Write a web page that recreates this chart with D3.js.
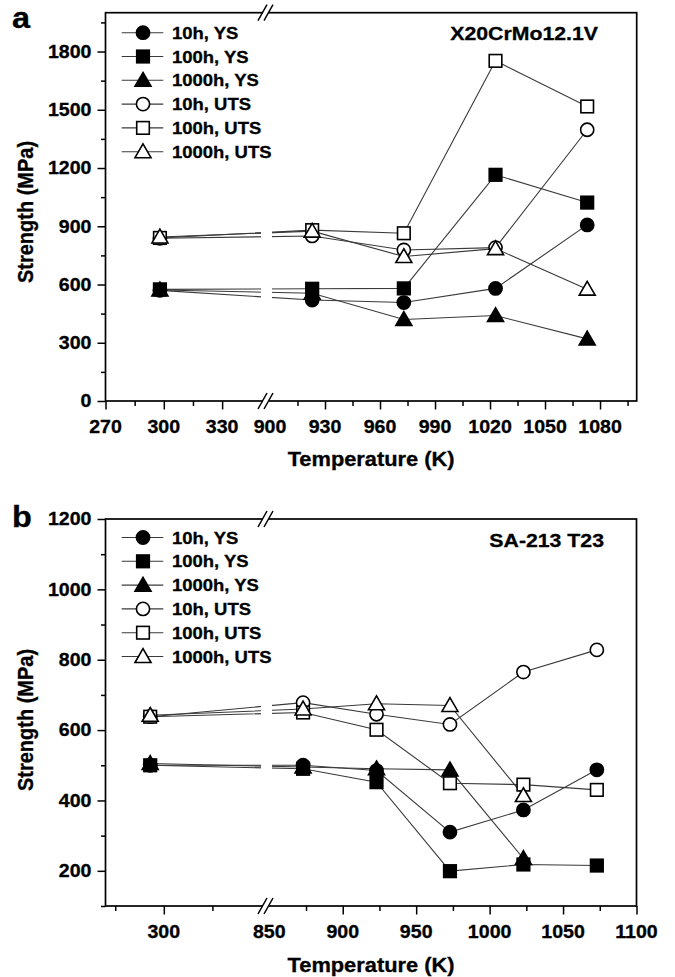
<!DOCTYPE html>
<html><head><meta charset="utf-8">
<script src="https://cdn.jsdelivr.net/npm/d3@7/dist/d3.min.js"></script>
<style>body{margin:0;background:#fff}svg{display:block}text{font-family:"Liberation Sans",Arial,Helvetica,sans-serif;font-weight:bold;fill:#000;stroke:#000;stroke-width:0.3px}</style>
</head><body><svg id="c" width="675" height="977"></svg>
<script>
// ---------- data ----------
const seriesNames = ["10h, YS","100h, YS","1000h, YS","10h, UTS","100h, UTS","1000h, UTS"];
const seriesShapes = ["circle","square","triangle","circle","square","triangle"];
const seriesFilled = [true,true,true,false,false,false];

// Panel a: X20CrMo12.1V
const titleA = "X20CrMo12.1V";
const tempsA = [298, 923, 973, 1023, 1073];
const ys10A    = [570, 520, 507, 580, 907];
const ys100A   = [575, 578, 580, 1165, 1022];
const ys1000A  = [572, 555, 420, 440, 320];
const uts10A   = [838, 850, 778, 790, 1397];
const uts100A  = [840, 880, 864, 1752, 1517];
const uts1000A = [845, 875, 744, 785, 576];
const yTicksA = [0,300,600,900,1200,1500,1800];
const yMinorA = [150,450,750,1050,1350,1650,1950];
const xLeftTicksA = [270,300,330], xLeftMinorA = [285,315];
const xRightTicksA = [930,960,990,1020,1050,1080], xRightMinorA = [915,945,975,1005,1035,1065,1095];
const xLabelsLeftA = [270,300,330], xLabelsRightA = [900,930,960,990,1020,1050,1080];

// Panel b: SA-213 T23
const titleB = "SA-213 T23";
const tempsB = [293, 873, 923, 973, 1023, 1073];
const ys10B    = [500, 500, 485, 310, 373, 487];
const ys100B   = [500, 490, 452, 199, 218, 215];
const ys1000B  = [505, 495, 490, 487, 235];
const uts10B   = [638, 678, 645, 616, 765, 828];
const uts100B  = [638, 650, 601, 449, 445, 430];
const uts1000B = [642, 660, 675, 670, 414];
const yTicksB = [200,400,600,800,1000,1200];
const yMinorB = [100,300,500,700,900,1100];
const xLeftTicksB = [300], xLeftMinorB = [275,325];
const xRightTicksB = [900,950,1000,1050,1100], xRightMinorB = [875,925,975,1025,1075];
const xLabelsLeftB = [300], xLabelsRightB = [850,900,950,1000,1050,1100];

// ---------- drawing ----------
const svg = d3.select("#c");
const SX = 1.12; // horizontal stretch of the original lettering
const LINE = "#3a3a3a";

function sym(g, shape, filled, x, y){
  const fill = filled ? "#000" : "#fff";
  let el;
  if(shape==="circle") el = g.append("circle").attr("cx",x).attr("cy",y).attr("r",6.6);
  else if(shape==="square") el = g.append("rect").attr("x",x-6.3).attr("y",y-6.3).attr("width",12.6).attr("height",12.6);
  else el = g.append("path").attr("d",`M${x},${y-7.8}L${x+8},${y+6}L${x-8},${y+6}Z`);
  el.attr("fill",fill).attr("stroke","#000").attr("stroke-width",1.6).attr("stroke-linejoin","miter");
}
function label(g, x, y, s, size, anchor){
  return g.append("text").attr("transform",`translate(${x},${y}) scale(${SX},1)`)
    .attr("text-anchor",anchor||"start").attr("font-size",size).text(s);
}

function panel(cfg){
  const g = svg.append("g");
  const {L,R,T,B,brk} = cfg;
  const xL = d3.scaleLinear().domain(cfg.leftDom).range([L, cfg.leftEnd]);
  const xR = d3.scaleLinear().domain(cfg.rightDom).range([cfg.rightStart, R]);
  const xp = v => v < 600 ? xL(v) : xR(v);
  const y = d3.scaleLinear().domain(cfg.yDom).range([B, T]);

  // clip for lines (gap at break)
  const cid = "clip"+cfg.id;
  const cp = svg.append("defs").append("clipPath").attr("id",cid);
  cp.append("rect").attr("x",L).attr("y",T).attr("width",brk-5-L).attr("height",B-T);
  cp.append("rect").attr("x",brk+6).attr("y",T).attr("width",R-brk-6).attr("height",B-T);

  // y ticks
  const yAx = g.append("g").attr("transform",`translate(${L},0)`)
    .call(d3.axisLeft(y).tickValues(cfg.yTicks).tickSize(8).tickFormat(""));
  const yAxm = g.append("g").attr("transform",`translate(${L},0)`)
    .call(d3.axisLeft(y).tickValues(cfg.yMinor).tickSize(4.5).tickFormat(""));
  // x ticks
  const xa1 = g.append("g").attr("transform",`translate(0,${B})`).call(d3.axisBottom(xL).tickValues(cfg.xlT).tickSize(8.5).tickFormat(""));
  const xa2 = g.append("g").attr("transform",`translate(0,${B})`).call(d3.axisBottom(xL).tickValues(cfg.xlM).tickSize(5).tickFormat(""));
  const xa3 = g.append("g").attr("transform",`translate(0,${B})`).call(d3.axisBottom(xR).tickValues(cfg.xrT).tickSize(8.5).tickFormat(""));
  const xa4 = g.append("g").attr("transform",`translate(0,${B})`).call(d3.axisBottom(xR).tickValues(cfg.xrM).tickSize(5).tickFormat(""));
  [yAx,yAxm,xa1,xa2,xa3,xa4].forEach(a=>{a.select(".domain").remove();a.selectAll("line").attr("stroke","#000").attr("stroke-width",1.5);});

  // frame
  g.append("rect").attr("x",L).attr("y",T).attr("width",R-L).attr("height",B-T)
    .attr("fill","none").attr("stroke","#000").attr("stroke-width",1.7);

  // break marks
  [T,B].forEach(yy=>{
    g.append("rect").attr("x",brk-3).attr("y",yy-2).attr("width",6).attr("height",4).attr("fill","#fff");
    g.append("line").attr("x1",brk-8).attr("y1",yy+8).attr("x2",brk+1).attr("y2",yy-8).attr("stroke","#000").attr("stroke-width",1.5);
    g.append("line").attr("x1",brk-2).attr("y1",yy+8).attr("x2",brk+7).attr("y2",yy-8).attr("stroke","#000").attr("stroke-width",1.5);
  });

  // tick labels
  cfg.yTicks.forEach(v=>label(g, L-14, y(v)+6.3, String(v), 17.5, "end"));
  cfg.xlL.forEach(v=>label(g, xL(v), B+32, String(v), 17.5, "middle"));
  cfg.xrL.forEach(v=>label(g, xR(v), B+32, String(v), 17.5, "middle"));

  // axis titles
  label(g, (L+R)/2, cfg.xTitleY, "Temperature (K)", 19.5, "middle");
  g.append("text").attr("transform",`translate(33,${cfg.yTitleY}) rotate(-90) scale(1,${SX})`)
    .attr("text-anchor","middle").attr("font-size",20).text("Strength (MPa)");
  // panel letter & title
  label(g, 12, cfg.letterY, cfg.letter, 29, "start");
  label(g, cfg.titleX, cfg.titleY, cfg.title, 19, "end");

  // lines
  const lg = g.append("g").attr("clip-path",`url(#${cid})`);
  const line = d3.line().x(d=>xp(d[0])).y(d=>y(d[1]));
  cfg.series.forEach(vals=>{
    const pts = vals.map((v,i)=>[cfg.temps[i], v]);
    lg.append("path").attr("d",line(pts)).attr("fill","none").attr("stroke",LINE).attr("stroke-width",1.1);
  });
  // markers
  cfg.series.forEach((vals,k)=>{
    vals.forEach((v,i)=>sym(g, seriesShapes[k], seriesFilled[k], xp(cfg.temps[i]), y(v)));
  });

  // legend
  seriesNames.forEach((n,k)=>{
    const yy = cfg.legY + k*23.8;
    g.append("line").attr("x1",121.7).attr("x2",163.3).attr("y1",yy).attr("y2",yy).attr("stroke",LINE).attr("stroke-width",1.1);
    sym(g, seriesShapes[k], seriesFilled[k], 143, yy);
    label(g, 172, yy+6, n, 16.5, "start");
  });
}

panel({id:"a", L:105.5, R:636.7, T:12.7, B:401, brk:266,
  leftDom:[270,350], leftEnd:261, rightDom:[900,1100], rightStart:270,
  yDom:[0,2000], yTicks:yTicksA, yMinor:yMinorA,
  xlT:xLeftTicksA, xlM:xLeftMinorA, xrT:xRightTicksA, xrM:xRightMinorA,
  xlL:xLabelsLeftA, xrL:xLabelsRightA,
  xTitleY:466, yTitleY:212, letter:"a", letterY:28, title:titleA, titleX:598, titleY:40,
  temps:tempsA, series:[ys10A,ys100A,ys1000A,uts10A,uts100A,uts1000A], legY:32.7});

panel({id:"b", L:105.5, R:636.5, T:519, B:906, brk:266,
  leftDom:[270,350], leftEnd:261, rightDom:[850,1100], rightStart:269.3,
  yDom:[100,1200], yTicks:yTicksB, yMinor:yMinorB,
  xlT:xLeftTicksB, xlM:xLeftMinorB, xrT:xRightTicksB, xrM:xRightMinorB,
  xlL:xLabelsLeftB, xrL:xLabelsRightB,
  xTitleY:972, yTitleY:720, letter:"b", letterY:527, title:titleB, titleX:604, titleY:547,
  temps:tempsB, series:[ys10B,ys100B,ys1000B,uts10B,uts100B,uts1000B], legY:537.5});
</script></body></html>
